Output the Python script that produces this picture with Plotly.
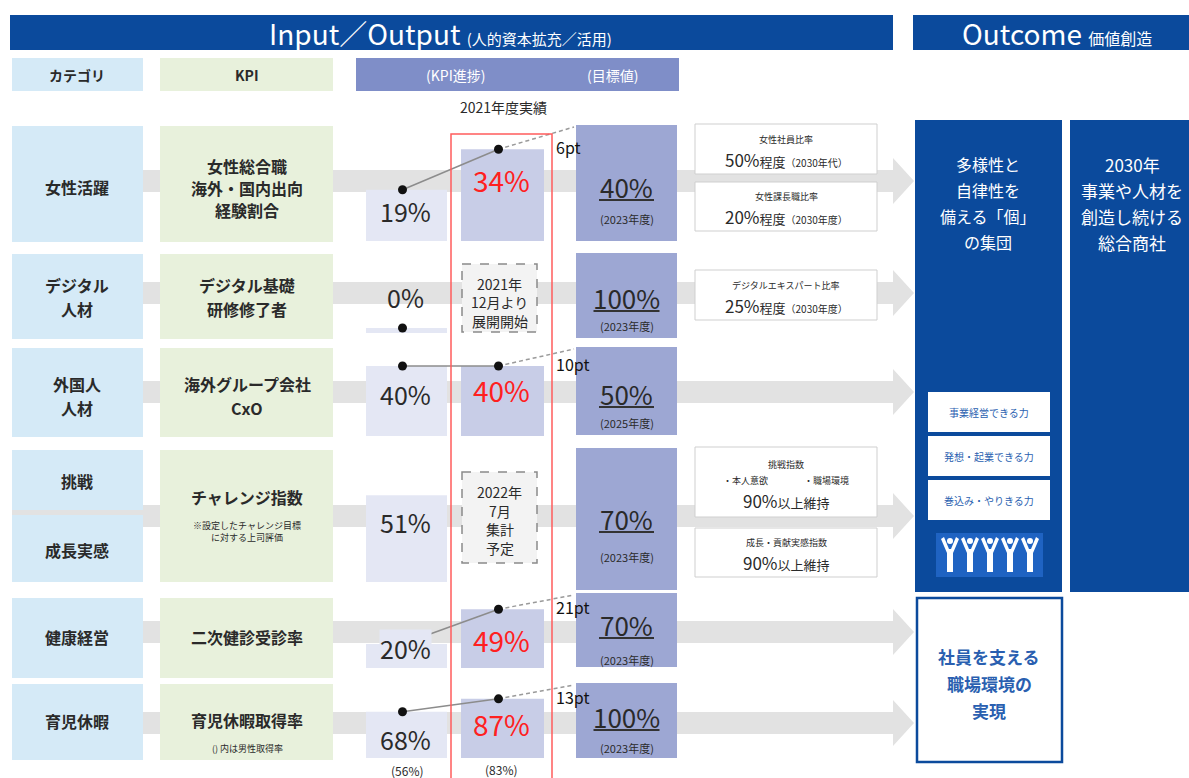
import plotly.graph_objects as go

# ---------------------------------------------------------------- data
CATEGORIES = ["女性活躍", "デジタル\n人材", "外国人\n人材", "挑戦", "成長実感", "健康経営", "育児休暇"]
KPIS = ["女性総合職\n海外・国内出向\n経験割合", "デジタル基礎\n研修修了者", "海外グループ会社\nCxO",
        "チャレンジ指数", "二次健診受診率", "育児休暇取得率"]
KPI_NOTES = [None, None, None, "※設定したチャレンジ目標\nに対する上司評価", None, "() 内は男性取得率"]
BASELINE = [19, 0, 40, 51, 20, 68]
ACTUAL_2021 = [34, None, 40, None, 49, 87]
PENDING = [None, "2021年\n12月より\n展開開始", None, "2022年\n7月\n集計\n予定", None, None]
TARGET = [40, 100, 50, 70, 70, 100]
TARGET_YEAR = ["2023年度", "2023年度", "2025年度", "2023年度", "2023年度", "2023年度"]
HAS_TREND = [True, True, True, False, True, True]
MALE_BASELINE = 56
MALE_ACTUAL = 83

INDICATORS = [
    ("女性社員比率", "50%", "程度", "（2030年代）"),
    ("女性課長職比率", "20%", "程度", "（2030年度）"),
    ("デジタルエキスパート比率", "25%", "程度", "（2030年度）"),
    ("挑戦指数\n・本人意欲　　　　・職場環境", "90%", "以上維持", ""),
    ("成長・貢献実感指数", "90%", "以上維持", ""),
]
OUTCOME_MAIN = ["多様性と", "自律性を", "備える「個」", "の集団"]
OUTCOME_VISION = ["2030年", "事業や人材を", "創造し続ける", "総合商社"]
OUTCOME_SUPPORT = ["社員を支える", "職場環境の", "実現"]
ABILITIES = ["事業経営できる力", "発想・起業できる力", "巻込み・やりきる力"]

# ---------------------------------------------------------------- layout (pixels)
W, H = 1189, 778
FONT = "Noto Sans CJK JP, Noto Sans, sans-serif"
NAVY = "#0b4a9c"
CAT_BG, KPI_BG = "#d5eaf7", "#e8f1dc"
HDR_PURPLE = "#7f8ec8"
LEFT_BG, MID_BG, TGT_BG = "#e4e7f4", "#c8cde7", "#9da7d3"
BAND = "#e2e2e2"
TXT = "#2a2a2a"
RED = "#ff2020"
ABILITY_TXT = "#2a5fb0"

CAT_SPANS = [(126, 242), (254, 339), (348, 437), (450, 510), (515, 582), (598, 678), (684, 760)]
CAT_TEXT_Y = [187, 297, 396, 481, 550, 637, 721]
KPI_SPANS = [(126, 242), (254, 339), (348, 437), (450, 582), (598, 678), (684, 760)]
KPI_TEXT_Y = [188, 297, 396, 497, 637, 720]
BAND_Y = [181, 293, 392, 516, 632, 723]

BAR_BOTTOM = [241, 333, 436, 582, 668, 758]
BAR_SCALE = [2.7, 1.0, 1.75, 1.7, 1.2, 0.68]   # px per percentage point, per row
LEFT_X, LEFT_W = 406.5, 81
MID_X, MID_W = 502.5, 83
LEFT_TEXT_Y = [211, 297, 394, 522, 648, 739]
MID_TEXT_Y = [180, 302, 390, 520, 640, 724]
PENDING_SPAN = [None, (264, 332), None, (472, 563), None, None]

TGT_X0, TGT_X1 = 576, 677
TGT_SPANS = [(125, 241), (253, 338), (347, 435), (448, 590), (593, 667), (683, 758)]
TGT_TEXT_Y = [186, 297, 393, 518, 624, 716]
TGT_YEAR_Y = [219, 326, 423, 557, 660, 748]

IND_X0, IND_X1 = 695, 877
IND_SPANS = [(124, 174), (182, 231), (270, 320), (447, 517), (528, 577)]

fig = go.Figure()
shapes = []
ann = []


def rect(x0, y0, x1, y1, fill, line=None, lw=0, dash=None, layer="below"):
    shapes.append(dict(type="rect", x0=x0, x1=x1, y0=y0, y1=y1, xref="x", yref="y",
                       fillcolor=fill, layer=layer,
                       line=dict(color=line or fill, width=lw, dash=dash)))


def text(x, y, s, size, color=TXT, bold=False, xanchor="center", bg=None):
    if bold:
        s = f"<b>{s}</b>"
    a = dict(x=x, y=y, xref="x", yref="y", text=s, showarrow=False,
             xanchor=xanchor, yanchor="middle",
             font=dict(family=FONT, size=size, color=color))
    if bg:
        a.update(bgcolor=bg, borderpad=0)
    ann.append(a)


def lines(x, yc, rows, size, spacing, color=TXT, bold=False):
    n = len(rows)
    for i, r in enumerate(rows):
        text(x, yc + (i - (n - 1) / 2) * spacing, r, size, color, bold)


# header bars
rect(10, 15, 893, 50, NAVY)
text(440, 33, "Input／Output <span style='font-size:15px'>(人的資本拡充／活用)</span>", 28, "white")
rect(913, 15, 1195, 50, NAVY)
text(1057, 33, "Outcome <span style='font-size:16px'>価値創造</span>", 28, "white")

# column headers
rect(12, 58, 143, 91, CAT_BG)
text(77, 75, "カテゴリ", 14, TXT, bold=True)
rect(160, 58, 333, 91, KPI_BG)
text(247, 75, "KPI", 14, TXT, bold=True)
rect(356, 58, 679, 91, HDR_PURPLE)
text(455, 75, "(KPI進捗)", 14, "white")
text(612, 75, "(目標値)", 14, "white")
text(503, 107, "2021年度実績", 14)

# gray arrow bands (behind everything)
for c in BAND_Y:
    shapes.append(dict(
        type="path", xref="x", yref="y", layer="below", fillcolor=BAND, line=dict(width=0),
        path=f"M 12 {c-11} L 893 {c-11} L 893 {c-23} L 914 {c} L 893 {c+23} L 893 {c+11} L 12 {c+11} Z"))

# category and KPI boxes
for (y0, y1), cat, ty in zip(CAT_SPANS, CATEGORIES, CAT_TEXT_Y):
    rect(12, y0, 143, y1, CAT_BG)
    lines(77, ty, cat.split("\n"), 16, 24, bold=True)
for i, ((y0, y1), kpi, ty) in enumerate(zip(KPI_SPANS, KPIS, KPI_TEXT_Y)):
    rect(160, y0, 333, y1, KPI_BG)
    rows = kpi.split("\n")
    lines(247, ty, rows, 16, 22 if len(rows) == 3 else 24, bold=True)
    if KPI_NOTES[i]:
        note = KPI_NOTES[i].split("\n")
        lines(247, ty + 28 + (len(note) - 1) * 6, note, 9, 12)

# red highlight frame for the 2021 column
rect(451, 134, 552, 800, "rgba(0,0,0,0)", line="#ff5c5c", lw=1.5, layer="above")

# pending (dashed) boxes
for i, p in enumerate(PENDING):
    if p:
        y0, y1 = PENDING_SPAN[i]
        rect(462, y0, 537, y1, "#f3f3f3", line="#8a8a8a", lw=1.5, dash="dash")
        lines(499.5, MID_TEXT_Y[i], p.split("\n"), 14, 18.5)

# target boxes
for i, (y0, y1) in enumerate(TGT_SPANS):
    rect(TGT_X0, y0, TGT_X1, y1, TGT_BG)
    cx = (TGT_X0 + TGT_X1) / 2
    label = f"{TARGET[i]}%"
    text(cx, TGT_TEXT_Y[i], label, 26)
    w = 11 * len(label) + 22
    shapes.append(dict(type="line", xref="x", yref="y", x0=cx - w / 2, x1=cx + w / 2,
                       y0=TGT_TEXT_Y[i] + 14, y1=TGT_TEXT_Y[i] + 14, layer="above",
                       line=dict(color="#333", width=2)))
    text(cx, TGT_YEAR_Y[i], f"({TARGET_YEAR[i]})", 11)

# bars: baseline and 2021 actual
left_h = [max(v * k, 5) for v, k in zip(BASELINE, BAR_SCALE)]
fig.add_trace(go.Bar(x=[LEFT_X] * 6, y=[-h for h in left_h], base=BAR_BOTTOM, width=LEFT_W,
                     marker=dict(color=LEFT_BG, line=dict(width=0)), hoverinfo="skip"))
mid_idx = [i for i, v in enumerate(ACTUAL_2021) if v is not None]
mid_h = [ACTUAL_2021[i] * BAR_SCALE[i] for i in mid_idx]
fig.add_trace(go.Bar(x=[MID_X] * len(mid_idx), y=[-h for h in mid_h],
                     base=[BAR_BOTTOM[i] for i in mid_idx], width=MID_W,
                     marker=dict(color=MID_BG, line=dict(width=0)), hoverinfo="skip"))

# value labels (a label that rises above its bar covers the trend dot, as in the original)
for i, v in enumerate(BASELINE):
    over = LEFT_TEXT_Y[i] - 14 < BAR_BOTTOM[i] - left_h[i] < LEFT_TEXT_Y[i] + 14
    text(LEFT_X - 1, LEFT_TEXT_Y[i], f"{v}%", 25, bg=LEFT_BG if over and v else None)
for i in mid_idx:
    text(MID_X - 1, MID_TEXT_Y[i], f"{ACTUAL_2021[i]}%", 28, RED)
text(LEFT_X, 770, f"({MALE_BASELINE}%)", 12)
text(MID_X - 2, 769, f"({MALE_ACTUAL}%)", 12)

# trend dots, connecting lines and gap to target
dot_x, dot_y = [], []
for i, has in enumerate(HAS_TREND):
    if not has:
        continue
    ly = BAR_BOTTOM[i] - left_h[i]
    dot_x.append(LEFT_X - 4)
    dot_y.append(ly)
    if ACTUAL_2021[i] is None:
        continue
    my = BAR_BOTTOM[i] - ACTUAL_2021[i] * BAR_SCALE[i]
    dot_x.append(MID_X - 4)
    dot_y.append(my)
    fig.add_trace(go.Scatter(x=[LEFT_X - 4, MID_X - 4], y=[ly, my], mode="lines",
                             line=dict(color="#8c8c8c", width=1.5), hoverinfo="skip"))
    fig.add_trace(go.Scatter(x=[MID_X - 4, TGT_X0 - 2], y=[my, TGT_SPANS[i][0] + 2], mode="lines",
                             line=dict(color="#9a9a9a", width=1.5, dash="4px,3px"), hoverinfo="skip"))
    text(554, my - 2, f"{TARGET[i] - ACTUAL_2021[i]}pt", 16, "#111", xanchor="left")
fig.add_trace(go.Scatter(x=dot_x, y=dot_y, mode="markers",
                         marker=dict(color="#111", size=9), hoverinfo="skip"))

# indicator boxes
for (y0, y1), (head, val, unit, year) in zip(IND_SPANS, INDICATORS):
    rect(IND_X0, y0, IND_X1, y1, "white", line="#cfcfcf", lw=1)
    cx = (IND_X0 + IND_X1) / 2
    head_rows = head.split("\n")
    main = f"{val}<span style='font-size:13px'>{unit}</span>"
    if year:
        main += f"<span style='font-size:10px'>{year}</span>"
    n = len(head_rows) + 1
    yc = (y0 + y1) / 2
    rows_y = [yc + (k - (n - 1) / 2) * 16 for k in range(n)]
    for k, r in enumerate(head_rows):
        text(cx, rows_y[k] - 2, r, 9)
    text(cx, rows_y[-1] + 2, main, 17)

# outcome boxes
rect(915, 120, 1062, 592, NAVY)
lines(988, 203, OUTCOME_MAIN, 16, 26, "white")
rect(1070, 120, 1195, 592, NAVY)
lines(1132, 203, OUTCOME_VISION, 17, 26, "white")
for k, (y0, y1) in enumerate([(392, 432), (436, 476), (480, 520)]):
    rect(928, y0, 1050, y1, "white")
    text(989, (y0 + y1) / 2, ABILITIES[k], 10, ABILITY_TXT)
rect(936, 533, 1043, 577, "#1f63c2")
for cx in [950, 970, 990, 1010, 1030]:
    shapes.append(dict(type="path", xref="x", yref="y", layer="below", fillcolor="white",
                       line=dict(width=0),
                       path=(f"M {cx-9} {539} L {cx-6} {537} L {cx-1} {549} L {cx+1} {549} "
                             f"L {cx+6} {537} L {cx+9} {539} L {cx+3} {553} L {cx+3} {572} "
                             f"L {cx-3} {572} L {cx-3} {553} Z")))
    shapes.append(dict(type="circle", xref="x", yref="y", layer="below", fillcolor="white",
                       line=dict(width=0), x0=cx - 3, x1=cx + 3, y0=538, y1=544))
rect(917, 598, 1062, 762, "white", line=NAVY, lw=2.5)
lines(989, 683, OUTCOME_SUPPORT, 17, 27, ABILITY_TXT, bold=True)

fig.update_layout(
    width=W, height=H, autosize=False,
    margin=dict(l=0, r=0, t=0, b=0),
    paper_bgcolor="white", plot_bgcolor="white",
    showlegend=False, barmode="overlay",
    xaxis=dict(range=[0, W], visible=False, fixedrange=True),
    yaxis=dict(range=[H, 0], visible=False, fixedrange=True),
    shapes=shapes, annotations=ann,
)

# the page body keeps its default 8px margin otherwise, which would shift the figure
fig.write_html("out.html", config={"displayModeBar": False},
               post_script="document.body.style.margin='0';document.body.style.overflow='hidden';")
